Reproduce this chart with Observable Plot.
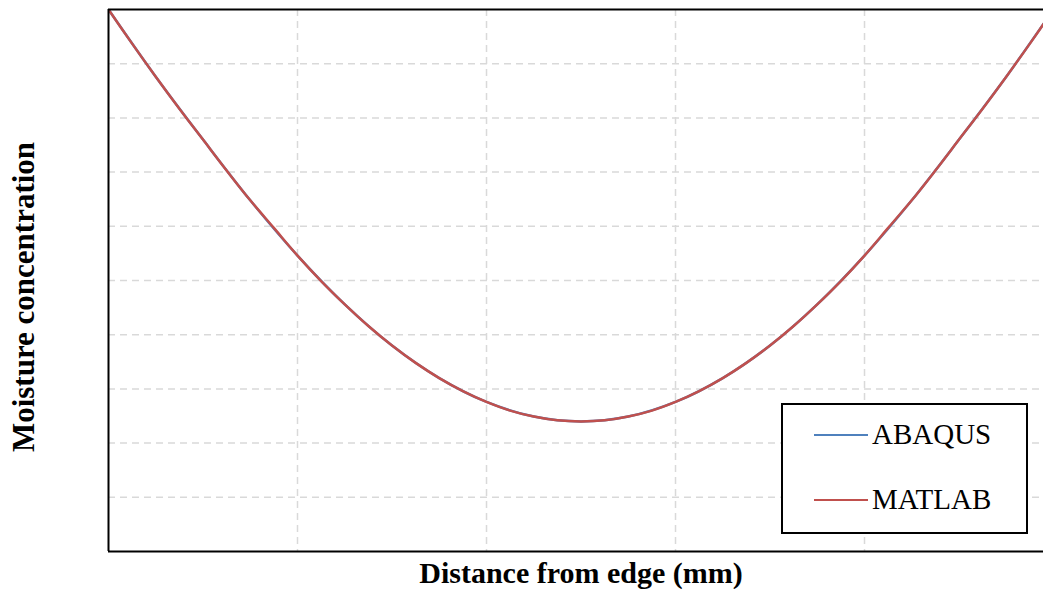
<!DOCTYPE html>
<html>
<head>
<meta charset="utf-8">
<script src="https://cdn.jsdelivr.net/npm/d3@7"></script>
<script src="https://cdn.jsdelivr.net/npm/@observablehq/plot@0.6"></script>
<style>
  html, body { margin: 0; padding: 0; background: #fff; }
  #wrap { position: relative; width: 1043px; height: 589px; overflow: hidden; font-family: "Liberation Serif", "Times New Roman", serif; }
  #legend { position: absolute; left: 781px; top: 403px; width: 243px; height: 127px; border: 2px solid #000; background: #fff; box-sizing: content-box; }
  .item { position: absolute; left: 31px; display: flex; align-items: center; font-size: 29px; color: #000; }
  .swatch { width: 54px; height: 0; border-top: 2.5px solid; margin-right: 4px; }
  #ylabel { position: absolute; left: 23px; top: 297px; transform: translate(-50%, -50%) rotate(-90deg); white-space: nowrap; font-size: 31px; font-weight: bold; color: #000; line-height: 1; }
</style>
</head>
<body>
<div id="wrap"></div>
<script>
// Distance from edge (mm) — sampled positions
const matlabX = [0,0.25,0.5,0.75,1,1.25,1.5,1.75,2,2.25,2.5,2.75,3,3.25,3.5,3.75,4,4.25,4.5,4.75,5,5.25,5.5,5.75,6,6.25,6.5,6.75,7,7.25,7.5,7.75,8,8.25,8.5,8.75,9,9.25,9.5,9.75,10];
const matlabC = [1.000,0.937,0.876,0.817,0.760,0.703,0.648,0.597,0.546,0.499,0.456,0.416,0.380,0.348,0.320,0.296,0.276,0.260,0.249,0.242,0.240,0.242,0.249,0.260,0.276,0.296,0.320,0.348,0.380,0.416,0.456,0.499,0.546,0.597,0.648,0.703,0.760,0.817,0.876,0.937,1.000];
const abaqusX = [0,0.5,1,1.5,2,2.5,3,3.5,4,4.5,5,5.5,6,6.5,7,7.5,8,8.5,9,9.5,10];
const abaqusC = [1.000,0.876,0.760,0.648,0.546,0.456,0.380,0.320,0.276,0.249,0.240,0.249,0.276,0.320,0.380,0.456,0.546,0.648,0.760,0.876,1.000];
const gridXTicks = [2,4,6,8];
const gridYTicks = [0.1,0.2,0.3,0.4,0.5,0.6,0.7,0.8,0.9];
const seriesNames = ["ABAQUS","MATLAB"];
const seriesColors = ["#4f81bd","#c0504d"];
const xLabel = "Distance from edge (mm)";
const yLabel = "Moisture concentration";

const abaqus = abaqusX.map((x,i)=>({x, c: abaqusC[i]}));
const matlab = matlabX.map((x,i)=>({x, c: matlabC[i]}));

const font = "Liberation Serif, Times New Roman, serif";
const chart = Plot.plot({
  width: 1043,
  height: 589,
  marginLeft: 108,
  marginTop: 9,
  marginBottom: 38,
  marginRight: 0,
  style: { fontFamily: font, background: "#fff", overflow: "hidden" },
  x: { domain: [0, 9.894], axis: null },
  y: { domain: [0, 1], axis: null },
  marks: [
    Plot.gridX(gridXTicks, { stroke: "#d9d9d9", strokeOpacity: 1, strokeWidth: 1.5, strokeDasharray: "7,5" }),
    Plot.gridY(gridYTicks, { stroke: "#d9d9d9", strokeOpacity: 1, strokeWidth: 1.5, strokeDasharray: "7,5" }),
    Plot.line(abaqus, { x: "x", y: "c", stroke: seriesColors[0], strokeWidth: 2.5, curve: "catmull-rom", clip: true }),
    Plot.line(matlab, { x: "x", y: "c", stroke: seriesColors[1], strokeWidth: 2.5, curve: "catmull-rom", clip: true }),
    Plot.ruleY([0, 1], { stroke: "#000", strokeWidth: 2 }),
    Plot.ruleX([0], { stroke: "#000", strokeWidth: 2 }),
    Plot.text([xLabel], { frameAnchor: "bottom", dx: 5, dy: 31, fontSize: 30, fontWeight: "bold", fill: "#000", fontFamily: font })
  ]
});
const wrap = document.getElementById("wrap");
wrap.appendChild(chart);

const yl = document.createElement("div");
yl.id = "ylabel";
yl.textContent = yLabel;
wrap.appendChild(yl);

const legend = document.createElement("div");
legend.id = "legend";
seriesNames.forEach((name, i) => {
  const item = document.createElement("div");
  item.className = "item";
  item.style.top = (i === 0 ? 13 : 78) + "px";
  const sw = document.createElement("span");
  sw.className = "swatch";
  sw.style.borderTopColor = seriesColors[i];
  const label = document.createElement("span");
  label.textContent = name;
  item.appendChild(sw);
  item.appendChild(label);
  legend.appendChild(item);
});
wrap.appendChild(legend);
</script>
</body>
</html>
